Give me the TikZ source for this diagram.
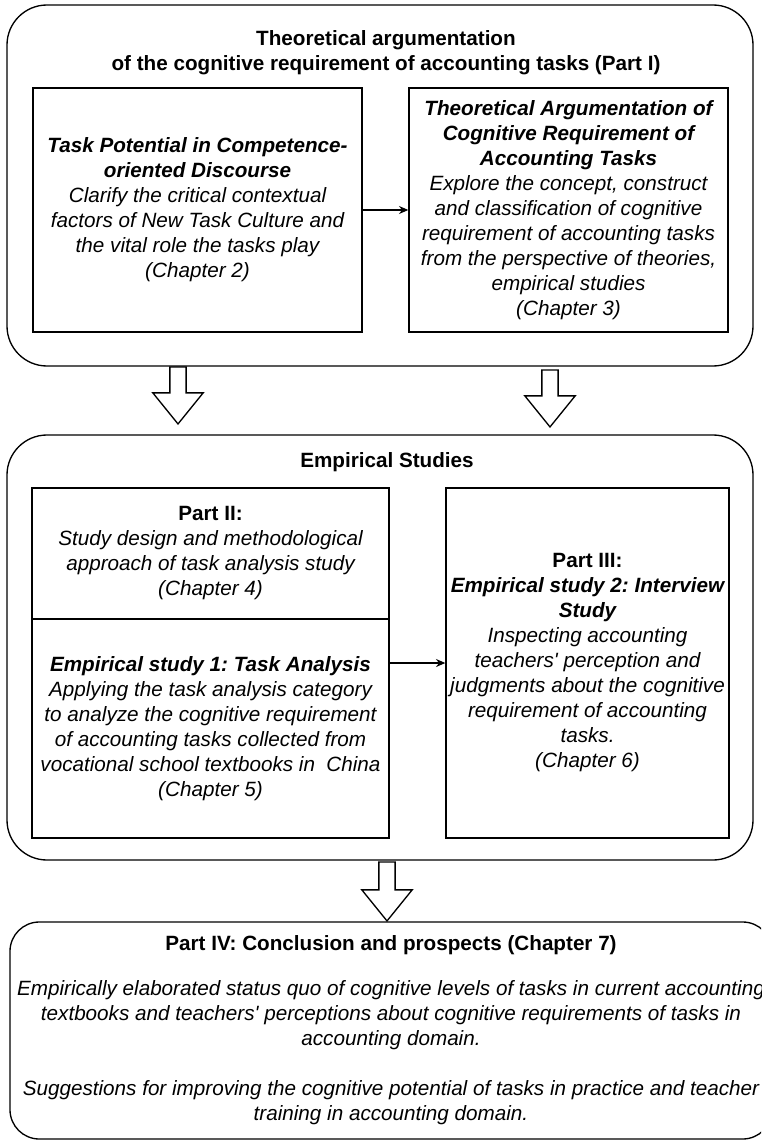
\documentclass[tikz,border=0pt]{standalone}
\usepackage{fontspec}
\setmainfont{Liberation Sans}
\frenchspacing
\usetikzlibrary{positioning, calc, arrows.meta, shapes.arrows}

\begin{document}
\begin{tikzpicture}[x=0.75pt,y=-0.75pt,
    frame/.style={draw, line width=1pt, rounded corners=30pt, minimum width=559.5pt},
    head/.style={align=center, font=\fontsize{15.5}{18.75}\selectfont\bfseries},
    box/.style={draw, line width=1pt, align=center, inner sep=2pt,
      font=\fontsize{15.5}{18.75}\selectfont\itshape},
    bigarrow/.style={draw, line width=1pt, single arrow, rotate=-90, anchor=tip,
      inner sep=5.6pt, single arrow head extend=12.75pt,
      single arrow tip angle=78, minimum height=42.75pt},
    link/.style={-{Stealth[length=7pt,width=6pt]}, line width=1pt}]
    \clip (0,0) rectangle (761,1141);
    \node[frame, minimum height=270.75pt] (part1) at (380,185.5) {};
    \node[head] (title1) at (386,52.5) {Theoretical argumentation\\of the cognitive requirement of accounting tasks (Part I)};
    \node[box, minimum width=246.75pt, minimum height=183pt] (potential) at (197.5,210)
      {\textbf{Task Potential in Competence-}\\\textbf{oriented Discourse}\\Clarify the critical contextual\\factors of New Task Culture and\\the vital role the tasks play\\(Chapter 2)};
    \node[box, minimum width=239.25pt, minimum height=183pt] (argument) at (568.5,210)
      {\textbf{Theoretical Argumentation of}\\\textbf{Cognitive Requirement of}\\\textbf{Accounting Tasks}\\Explore the concept, construct\\and classification of cognitive\\requirement of accounting tasks\\from the perspective of theories,\\empirical studies\\(Chapter 3)};
    \draw[link] (potential) -- (argument);
    \node[bigarrow] (down1) at (178,425) {};
    \node[bigarrow] (down2) at (550,428) {};
    \node[frame, minimum height=318.75pt] (part2) at (380,647.5) {};
    \node[head] (title2) at (387,462) {Empirical Studies};
    \node[box, minimum width=267.75pt, minimum height=98.25pt] (design) at (210.5,553.5)
      {\textup{\textbf{Part II:}}\\Study design and methodological\\approach of task analysis study\\(Chapter 4)};
    \node[box, minimum width=267.75pt, minimum height=164.25pt] (analysis) at (210.5,728.5)
      {\textbf{Empirical study 1: Task Analysis}\\Applying the task analysis category\\to analyze the cognitive requirement\\of accounting tasks collected from\\vocational school textbooks in~ China\\(Chapter 5)};
    \node[box, minimum width=212.25pt, minimum height=262.5pt] (interview) at (587.5,663)
      {\textup{\textbf{Part III:}}\\\textbf{Empirical study 2: Interview}\\\textbf{Study}\\Inspecting accounting\\teachers\textquotesingle{} perception and\\judgments about the cognitive\\requirement of accounting\\tasks.\\(Chapter 6)};
    \draw[link] (analysis.east |- interview.west) -- (interview.west);
    \node[bigarrow, minimum height=44.25pt] (down3) at (387,922) {};
    \node[box, rounded corners=22pt, minimum width=571.5pt, minimum height=162.75pt] (conclusion) at (391,1030.5)
      {\textup{\textbf{Part IV: Conclusion and prospects (Chapter 7)}}\\[15pt]Empirically elaborated status quo of cognitive levels of tasks in current accounting\\textbooks and teachers\textquotesingle{} perceptions about cognitive requirements of tasks in\\accounting domain.\\[18.75pt]Suggestions for improving the cognitive potential of tasks in practice and teacher\\training in accounting domain.};
  \end{tikzpicture}
\end{document}
